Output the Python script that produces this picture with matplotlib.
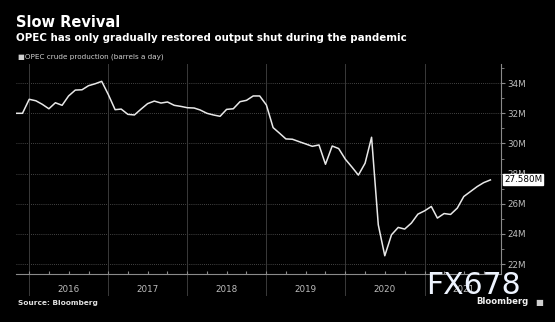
import matplotlib
matplotlib.use("Agg")
import matplotlib.pyplot as plt
import matplotlib.dates as mdates
import matplotlib.transforms as mtransforms
import numpy as np
import pandas as pd

# ---- data (million barrels a day), monthly Nov 2015 - Nov 2021 ----
dates = pd.date_range("2015-11-01", "2021-11-01", freq="MS")
production = [
    32.0, 32.0,                                                               # 2015 Nov-Dec
    32.93, 32.83, 32.6, 32.3, 32.7, 32.53, 33.15, 33.54, 33.56, 33.83, 33.96, 34.12,  # 2016
    33.23, 32.24, 32.28, 31.93, 31.89, 32.28, 32.64, 32.81, 32.68, 32.75, 32.53, 32.46,  # 2017
    32.37, 32.35, 32.22, 32.0, 31.89, 31.8, 32.26, 32.3, 32.77, 32.86, 33.15, 33.15,  # 2018
    32.55, 31.05, 30.7, 30.3, 30.28, 30.12, 29.97, 29.81, 29.9, 28.62, 29.83, 29.66,  # 2019
    28.95, 28.42, 27.9, 28.69, 30.41, 24.6, 22.55, 23.94, 24.43, 24.32, 24.72, 25.31,  # 2020
    25.53, 25.82, 25.05, 25.35, 25.29, 25.71, 26.48, 26.81, 27.14, 27.4, 27.58,        # 2021
]
years = [2016, 2017, 2018, 2019, 2020, 2021]
y_ticks = [22, 24, 26, 28, 30, 32, 34]
last_label = "27.580M"
title = "Slow Revival"
subtitle = "OPEC has only gradually restored output shut during the pandemic"
legend_label = "OPEC crude production (barrels a day)"
source = "Source: Bloomberg"

W, H = 555, 322
fig = plt.figure(figsize=(W / 100, H / 100), dpi=100, facecolor="black")
L, R, T, B = 16, 501, 64, 274
ax = fig.add_axes([L / W, 1 - B / H, (R - L) / W, (B - T) / H])
ax.set_facecolor("black")

ax.plot(dates, production, color="#e8e8e8", lw=1.1, zorder=3)

ax.set_xlim(pd.Timestamp("2015-11-01"), pd.Timestamp("2021-12-20"))
ax.set_ylim(21.34, 35.27)

# horizontal dotted grid
for v in y_ticks:
    ax.axhline(v, color="#5a5a5a", lw=0.6, ls=(0, (1, 1.5)), zorder=1)

# vertical year separators extending below axis
for yr in years:
    d = pd.Timestamp(f"{yr}-01-01")
    ax.axvline(d, ymin=-0.10, ymax=1, color="#3a3a3a", lw=0.7, clip_on=False, zorder=1)

trans = mtransforms.blended_transform_factory(ax.transData, ax.transAxes)
for yr in years:
    ax.text(pd.Timestamp(f"{yr}-07-01"), -0.076, str(yr), transform=trans,
            ha="center", va="center", color="#bdbdbd", fontsize=6.3)

# spines
for s in ["top", "left"]:
    ax.spines[s].set_visible(False)
ax.spines["bottom"].set_color("#8a8a8a")
ax.spines["right"].set_color("#8a8a8a")
ax.spines["bottom"].set_linewidth(0.8)
ax.spines["right"].set_linewidth(0.8)

# x ticks: quarter ticks inward
ax.xaxis.set_major_locator(mdates.MonthLocator(bymonth=[1, 4, 7, 10]))
ax.tick_params(axis="x", which="major", direction="in", length=2, color="#8a8a8a",
               labelbottom=False)

# y axis on right
ax.yaxis.tick_right()
ax.set_yticks(y_ticks)
ax.set_yticks(np.arange(22, 36, 1), minor=True)
ax.set_yticklabels([f"{v}M" for v in y_ticks])
ax.tick_params(axis="y", which="major", direction="out", length=3, color="#8a8a8a",
               labelcolor="#bdbdbd", labelsize=6.3, pad=1.5)
ax.tick_params(axis="y", which="minor", direction="out", length=2, color="#8a8a8a")

# last value label
ax.text(1.006, production[-1], last_label,
        transform=mtransforms.blended_transform_factory(ax.transAxes, ax.transData),
        ha="left", va="center", color="black", fontsize=6.3, zorder=5, clip_on=False,
        bbox=dict(boxstyle="square,pad=0.12", fc="white", ec="white"))

# titles
fig.text(16 / W, 1 - 22.5 / H, title, color="white", fontsize=10.5, fontweight="bold",
         ha="left", va="center")
fig.text(16 / W, 1 - 38 / H, subtitle, color="white", fontsize=7.35, fontweight="bold",
         ha="left", va="center")
fig.text(18 / W, 1 - 56.5 / H, "\u25A0" + legend_label, color="#d0d0d0", fontsize=5.2,
         ha="left", va="center")
fig.text(18 / W, 1 - 303 / H, source, color="#e0e0e0", fontsize=5.3, fontweight="bold",
         ha="left", va="center")

# watermark and logo
fig.text(426 / W, 1 - 286 / H, "FX678", color="#eef4ff", fontsize=21.5,
         ha="left", va="center", zorder=10)
fig.text(476 / W, 1 - 302 / H, "Bloomberg", color="#f0f0f0", fontsize=6.1,
         ha="left", va="center", fontweight="bold")
fig.text(535 / W, 1 - 302 / H, "\u25A0", color="#cfcfcf", fontsize=6,
         ha="left", va="center")

fig.savefig("out.png", dpi=100, facecolor="black")
